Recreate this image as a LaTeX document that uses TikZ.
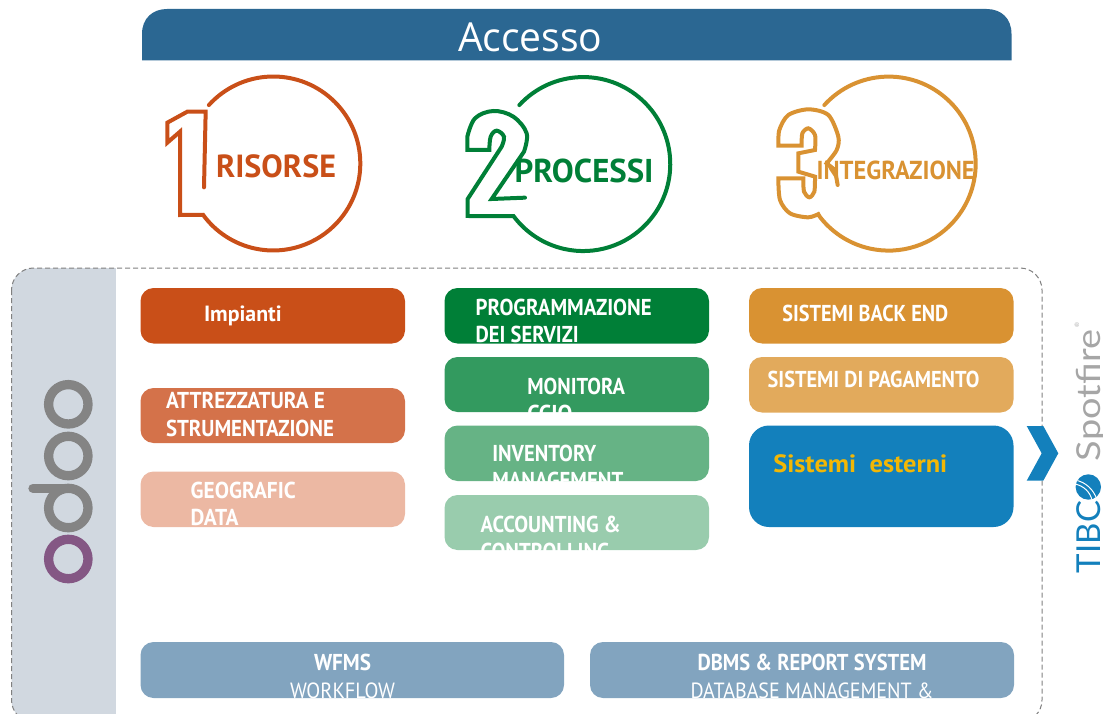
\documentclass[tikz,border=0pt]{standalone}
\usepackage{fontspec}
\usepackage{graphicx}
\setmainfont{PT Sans}
\newfontfamily\accfont{Open Sans}
\newfontfamily\logofont{Lato}
\definecolor{cHead}{HTML}{2B6792}
\definecolor{cRed}{HTML}{C94F18}
\definecolor{cRedB}{HTML}{D4724A}
\definecolor{cRedC}{HTML}{ECB8A3}
\definecolor{cGreen}{HTML}{007F37}
\definecolor{cGreenB}{HTML}{339A5F}
\definecolor{cGreenC}{HTML}{66B385}
\definecolor{cGreenD}{HTML}{99CCAD}
\definecolor{cOr}{HTML}{D99232}
\definecolor{cOrB}{HTML}{E2AA5C}
\definecolor{cBlue}{HTML}{1380BC}
\definecolor{cYel}{HTML}{F2B705}
\definecolor{cBar}{HTML}{82A4BF}
\definecolor{cPanel}{HTML}{D1D8E0}
\definecolor{cGray}{HTML}{848484}
\definecolor{cPur}{HTML}{845784}
\definecolor{cDash}{HTML}{808080}
\definecolor{cSpot}{HTML}{A6A6A6}
\newcommand{\fitw}[3]{\resizebox{#1pt}{\height}{\fontsize{#2}{#2}\selectfont #3}}
\newcommand{\fitb}[3]{\resizebox{#1pt}{\height}{\fontsize{#2}{#2}\selectfont\bfseries #3}}
% name, x1, y1, x2, y2, colour, radius
\newcommand{\bx}[7]{%
  \pgfmathsetmacro{\bw}{#4-#2}\pgfmathsetmacro{\bh}{#5-#3}%
  \pgfmathsetmacro{\bcx}{(#4+#2)/2}\pgfmathsetmacro{\bcy}{(#5+#3)/2}%
  \node[boxbase,fill=#6,rounded corners=#7pt,minimum width=\bw pt,minimum height=\bh pt] (#1) at (\bcx,\bcy) {};}
\tikzset{
  boxbase/.style={draw=none,inner sep=0pt,outer sep=0pt},
  lab/.style={anchor=base west,inner sep=0pt,outer sep=0pt,text=white},
  labc/.style={anchor=base,inner sep=0pt,outer sep=0pt,text=white},
  ringline/.style={line width=4pt,line join=miter,line cap=round},
  logoring/.style={line width=9.3pt},
}
\begin{document}
\begin{tikzpicture}[x=1pt,y=-1pt]
\useasboundingbox (0,0) rectangle (1103,714);
% header
\fill[cHead] (142,60.5) -- (142,34) .. controls (142,18) and (153,9) .. (167,9) -- (986.5,9) .. controls (1001,9) and (1011.5,18) .. (1011.5,34) -- (1011.5,60.5) -- cycle;
\node[lab] (accesso) at (458,51.2) {\accfont\fitw{144.5}{40}{Accesso}};
% numbered circles (coordinates in zoomed units)
\begin{scope}[shift={(130,0)},x=0.33333pt,y=-0.33333pt]
\draw[ringline,draw=cRed] (236.6,315.2) arc[start angle=-137.8,end angle=143.9,radius=261]
  -- (150,645) -- (150,395) -- (112,428) -- (112,368) -- (172,335) -- (227,335) -- (222,562);
\draw[ringline,draw=cGreen] (1168,315.2) arc[start angle=-137.3,end angle=143.2,radius=261]
  -- (1013,648) -- (1013,597) -- (1115,440)
  -- plot[smooth,tension=.6] coordinates {(1115,440)(1122,410)(1100,392)(1082,410)(1078,450)}
  -- (1012,450) -- (1012,410)
  -- plot[smooth,tension=.6] coordinates {(1012,410)(1035,355)(1090,333)(1150,350)(1190,400)(1182,455)}
  -- (1085,597) -- (1185,593);
\end{scope}
\begin{scope}[shift={(620,0)},x=0.33333pt,y=-0.33333pt]
\draw[ringline,draw=cOr] (613,315.2) arc[start angle=-137.7,end angle=144.2,radius=261]
  -- plot[smooth,tension=.5] coordinates {(600,640)(565,652)(510,640)(480,600)(475,535)}
  -- (550,535)
  -- plot[smooth,tension=.5] coordinates {(550,535)(552,575)(568,592)(583,575)(585,530)}
  -- (535,515) -- (535,460) -- (585,450)
  -- plot[smooth,tension=.5] coordinates {(585,450)(585,405)(565,385)(547,400)(545,437)}
  -- (475,437)
  -- plot[smooth,tension=.5] coordinates {(475,437)(478,390)(505,345)(565,328)(625,345)(655,410)(650,450)(620,490)}
  -- (645,510) -- (653,555);
\end{scope}
\node[lab,text=cRed] (risorse) at (216,178) {\fitb{120}{32}{RISORSE}};
\node[lab,text=cGreen] (processi) at (514.5,183) {\fitb{139}{33}{PROCESSI}};
\node[lab,text=cOr] (integr) at (816.7,180) {\fitb{158}{26}{INTEGRAZIONE}};
% frame and side panel
\begin{scope}
\clip[rounded corners=22pt] (11.5,268) rectangle (1042,722);
\fill[cPanel] (11,268) rectangle (116,722);
\end{scope}
\draw[cDash,line width=1pt,dash pattern=on 5pt off 3pt,rounded corners=22pt] (11.5,268) rectangle (1042,722);
% odoo logo
\draw[logoring,draw=cGray] (68.3,404.3) circle[radius=19.7];
\draw[logoring,draw=cGray] (68.3,456) circle[radius=19.7];
\draw[logoring,draw=cGray] (68.3,508) circle[radius=19.7];
\draw[logoring,draw=cGray,line cap=round] (33,488.3) -- (68.3,488.3);
\draw[logoring,draw=cPur] (68.3,559) circle[radius=19.7];
% column 1
\bx{b11}{140.5}{288}{405}{343.5}{cRed}{13}
\bx{b12}{140.5}{388}{405}{443}{cRedB}{13}
\bx{b13}{140.5}{471.5}{405}{527}{cRedC}{13}
\node[lab] (t11) at (204,321.4) {\fitb{77.7}{22}{Impianti}};
\node[lab] (t12a) at (166,408.7) {\fitb{159}{23}{ATTREZZATURA E}};
\node[lab] (t12b) at (166,436.4) {\fitb{168}{23}{STRUMENTAZIONE}};
\node[lab] (t13a) at (190.7,498.7) {\fitb{105}{23}{GEOGRAFIC}};
\node[lab] (t13b) at (190.7,525.7) {\fitb{48}{23}{DATA}};
% column 2
\bx{b21}{444.5}{288}{709}{343.5}{cGreen}{13}
\bx{b22}{444.5}{357}{709}{412}{cGreenB}{13}
\bx{b23}{444.5}{425.5}{709}{481}{cGreenC}{13}
\bx{b24}{444.5}{495}{709}{550}{cGreenD}{13}
\node[lab] (t21a) at (475.7,315) {\fitb{176}{23}{PROGRAMMAZIONE}};
\node[lab] (t21b) at (475.7,342.4) {\fitb{103}{23}{DEI SERVIZI}};
\node[lab] (t22a) at (527.3,394.7) {\fitb{97.7}{23}{MONITORA}};
\node[lab] (t23a) at (492.3,461.4) {\fitb{104}{23}{INVENTORY}};
\node[lab] (t24a) at (480.7,532.4) {\fitb{140}{23}{ACCOUNTING \&}};
\begin{scope}
\clip (440,357) rectangle (712,412);
\node[lab] (t22b) at (527.3,421.7) {\fitb{45}{23}{CCIO}};
\end{scope}
\begin{scope}
\clip (440,425.5) rectangle (712,481);
\node[lab] (t23b) at (492.3,488.7) {\fitb{131}{23}{MANAGEMENT}};
\end{scope}
\begin{scope}
\clip (440,495) rectangle (712,550);
\node[lab] (t24b) at (480.7,559.7) {\fitb{129}{23}{CONTROLLING}};
\end{scope}
% column 3
\bx{b31}{749}{288}{1013.5}{343.5}{cOr}{13}
\bx{b32}{749}{357}{1013.5}{412.5}{cOrB}{13}
\bx{b33}{749}{425.5}{1013.5}{527}{cBlue}{20}
\node[lab] (t31) at (782.3,321.4) {\fitb{166}{23}{SISTEMI BACK END}};
\node[lab] (t32) at (767.7,387.4) {\fitb{211.7}{23}{SISTEMI DI PAGAMENTO}};
\node[lab,text=cYel] (t33) at (773.3,472.2) {\fitb{174}{25}{Sistemi\ \ esterni}};
% bottom bars
\bx{b41}{140.5}{642}{564}{698}{cBar}{13}
\bx{b42}{590}{642}{1014}{698}{cBar}{13}
\node[labc] (t41a) at (342.5,670.7) {\fitb{57}{23}{WFMS}};
\node[labc] (t42a) at (812,670.7) {\fitb{229}{23}{DBMS \& REPORT SYSTEM}};
\begin{scope}
\clip (140,642) rectangle (1014,698);
\node[labc] (t41b) at (342.5,698) {\fitw{105}{22}{WORKFLOW}};
\node[labc] (t42b) at (812,698) {\fitw{243}{22}{DATABASE MANAGEMENT \&}};
\end{scope}
% chevron
\fill[cBlue] (1026.7,426) -- (1043.3,426) -- (1058.3,453.3) -- (1043.3,480.7) -- (1026.7,480.7) -- (1041.7,453.3) -- cycle;
% TIBCO Spotfire logo
\node[lab,rotate=90,text=cBlue] (tibco) at (1100,573) {\logofont\fitw{72}{33}{TIBC}};
\node[lab,rotate=90,text=cSpot] (spot) at (1100,461) {\logofont\fitw{131}{33}{Spotfire}};
\node[lab,rotate=90,text=cSpot] (reg) at (1079,327) {\logofont\fontsize{6}{6}\selectfont ®};
\fill[cBlue] (1088.3,487) circle[radius=12.7];
\begin{scope}
\clip (1088.3,487) circle[radius=12.7];
\draw[white,line width=1pt] (1075,480) .. controls (1086,482) and (1094,490) .. (1097,500);
\draw[white,line width=1pt] (1075,484) .. controls (1084,486) and (1090,492) .. (1092,500);
\end{scope}
\end{tikzpicture}
\end{document}
